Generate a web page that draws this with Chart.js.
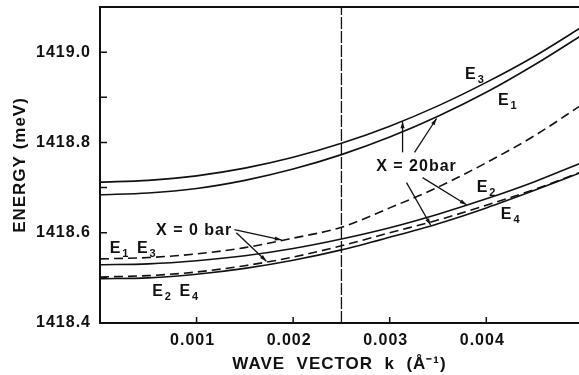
<!DOCTYPE html>
<html>
<head>
<meta charset="utf-8">
<script src="https://cdn.jsdelivr.net/npm/chart.js@4.4.1/dist/chart.umd.min.js"></script>
<style>
  body { margin: 0; background: #fff; }
</style>
</head>
<body>
<canvas id="graph" width="579" height="375"></canvas>
<script>
// wave vector k (1/Angstrom) and energies (meV)
const waveVector = [0, 0.0005, 0.001, 0.0015, 0.002, 0.0025, 0.003, 0.0035, 0.004, 0.0045, 0.005];
const e3At20bar  = [1418.712, 1418.716, 1418.726, 1418.743, 1418.767, 1418.798, 1418.836, 1418.881, 1418.933, 1418.991, 1419.057];
const e1At20bar  = [1418.684, 1418.688, 1418.698, 1418.716, 1418.741, 1418.773, 1418.812, 1418.858, 1418.911, 1418.972, 1419.039];
const e13At0bar  = [1418.542, 1418.545, 1418.553, 1418.567, 1418.588, 1418.612, 1418.655, 1418.701, 1418.755, 1418.815, 1418.885];
const e2At20bar  = [1418.529, 1418.531, 1418.538, 1418.549, 1418.565, 1418.586, 1418.611, 1418.641, 1418.675, 1418.713, 1418.756];
const e24At0bar  = [1418.502, 1418.505, 1418.513, 1418.527, 1418.546, 1418.571, 1418.600, 1418.628, 1418.661, 1418.696, 1418.736];
const e4At20bar  = [1418.498, 1418.500, 1418.508, 1418.521, 1418.539, 1418.562, 1418.590, 1418.620, 1418.655, 1418.694, 1418.735];
const markerK = 0.0025;

// labels: [k, E, parts]  parts = [base, subscript]
const labels = [
  [0.00378, 1418.94, [['E', '3']]],
  [0.00412, 1418.884, [['E', '1']]],
  [0.0039, 1418.691, [['E', '2']]],
  [0.00415, 1418.631, [['E', '4']]],
  [0.0001, 1418.556, [['E', '1'], [' E', '3']]],
  [0.00054, 1418.46, [['E', '2'], [' E', '4']]],
  [0.00286, 1418.736, [['X = 20bar', '']]],
  [0.00058, 1418.596, [['X = 0 bar', '']]]
];
// arrows: [kFrom, eFrom, kTo, eTo]
const arrows = [
  [0.003133, 1418.778, 0.003133, 1418.846],
  [0.003257, 1418.778, 0.003485, 1418.853],
  [0.003174, 1418.711, 0.003423, 1418.617],
  [0.00334, 1418.722, 0.003795, 1418.662],
  [0.001392, 1418.607, 0.001879, 1418.584],
  [0.001412, 1418.600, 0.001723, 1418.537]
];

const ink = '#111';
const font = 'Liberation Sans, Arial, sans-serif';

function curve(vals, dashed) {
  return {
    data: waveVector.map((k, i) => ({ x: k, y: vals[i] })),
    borderColor: ink,
    borderWidth: 1.6,
    borderDash: dashed ? [9, 5] : [],
    pointRadius: 0,
    tension: 0.4,
    cubicInterpolationMode: 'monotone'
  };
}

const decor = {
  id: 'decor',
  beforeDraw(chart) {
    chart.ctx.letterSpacing = '1px';
  },
  afterDatasetsDraw(chart) {
    const ctx = chart.ctx, sx = chart.scales.x, sy = chart.scales.y, a = chart.chartArea;
    ctx.save();
    ctx.strokeStyle = ink;
    ctx.fillStyle = ink;
    ctx.lineWidth = 2;
    ctx.beginPath();
    ctx.moveTo(a.left, a.top);
    ctx.lineTo(a.right, a.top);
    ctx.stroke();

    // inward tick marks
    ctx.lineWidth = 1.5;
    ctx.beginPath();
    sy.ticks.forEach(t => {
      const py = sy.getPixelForValue(t.value);
      if (py < a.top + 2) return;
      ctx.moveTo(a.left, py);
      ctx.lineTo(a.left + 7, py);
    });
    sx.ticks.forEach(t => {
      const v = t.value * 1000;
      if (Math.abs(v - Math.round(v)) > 1e-6 || Math.round(v) === 0) return;
      const px = sx.getPixelForValue(t.value);
      ctx.moveTo(px, a.bottom);
      ctx.lineTo(px, a.bottom - 6);
    });
    ctx.stroke();

    // arrows
    ctx.lineWidth = 1.3;
    arrows.forEach(([k1, e1, k2, e2]) => {
      const x1 = sx.getPixelForValue(k1), y1 = sy.getPixelForValue(e1);
      const x2 = sx.getPixelForValue(k2), y2 = sy.getPixelForValue(e2);
      ctx.beginPath();
      ctx.moveTo(x1, y1);
      ctx.lineTo(x2, y2);
      ctx.stroke();
      const ang = Math.atan2(y2 - y1, x2 - x1);
      ctx.beginPath();
      ctx.moveTo(x2, y2);
      ctx.lineTo(x2 - 7 * Math.cos(ang - 0.3), y2 - 7 * Math.sin(ang - 0.3));
      ctx.lineTo(x2 - 7 * Math.cos(ang + 0.3), y2 - 7 * Math.sin(ang + 0.3));
      ctx.closePath();
      ctx.fill();
    });

    // text labels
    ctx.textBaseline = 'alphabetic';
    ctx.textAlign = 'left';
    labels.forEach(([k, e, parts]) => {
      let px = sx.getPixelForValue(k);
      const py = sy.getPixelForValue(e);
      parts.forEach(([base, sub]) => {
        ctx.font = 'bold 16px ' + font;
        ctx.fillText(base, px, py);
        px += ctx.measureText(base).width;
        if (sub) {
          ctx.font = 'bold 11px ' + font;
          ctx.fillText(sub, px + 1, py + 4);
          px += ctx.measureText(sub).width + 3;
        }
      });
    });
    ctx.restore();
  }
};

new Chart(document.getElementById('graph'), {
  type: 'line',
  data: {
    datasets: [
      curve(e3At20bar, false),
      curve(e1At20bar, false),
      curve(e13At0bar, true),
      curve(e2At20bar, false),
      curve(e24At0bar, true),
      curve(e4At20bar, false),
      {
        data: [{ x: markerK, y: 1418.4 }, { x: markerK, y: 1419.1 }],
        borderColor: ink,
        borderWidth: 1.3,
        borderDash: [12, 2],
        pointRadius: 0
      }
    ]
  },
  options: {
    responsive: false,
    animation: false,
    layout: { padding: { top: 7, right: 0, left: 0, bottom: 0 } },
    plugins: { legend: { display: false }, tooltip: { enabled: false } },
    scales: {
      x: {
        type: 'linear',
        min: 0,
        max: 0.00496,
        afterFit: s => { s.height = 52; s.paddingLeft = 0; s.paddingRight = 0; },
        grid: { display: false },
        border: { display: true, color: ink, width: 2 },
        ticks: {
          stepSize: 0.001,
          includeBounds: false,
          autoSkip: false,
          maxRotation: 0,
          padding: 0,
          labelOffset: -4,
          color: ink,
          font: { family: font, size: 16, weight: 'bold' },
          callback: v => {
            const m = v * 1000;
            if (Math.abs(m - Math.round(m)) > 1e-6 || Math.round(m) === 0) return '';
            return v.toFixed(3);
          }
        },
        title: {
          display: true,
          text: 'WAVE  VECTOR  k  (Å⁻¹)',
          color: ink,
          font: { family: font, size: 17, weight: 'bold' },
          padding: { top: -4, bottom: 0 }
        }
      },
      y: {
        min: 1418.4,
        max: 1419.1,
        afterFit: s => { s.width = 100; s.paddingTop = 0; s.paddingBottom = 0; },
        grid: { display: false },
        border: { display: true, color: ink, width: 2 },
        ticks: {
          stepSize: 0.1,
          includeBounds: false,
          autoSkip: false,
          padding: 1,
          color: ink,
          font: { family: font, size: 16, weight: 'bold' },
          callback: v => {
            const t = Math.round(v * 10);
            return t % 2 === 0 ? (t / 10).toFixed(1) : '';
          }
        },
        title: {
          display: true,
          text: 'ENERGY (meV)',
          color: ink,
          font: { family: font, size: 17, weight: 'bold' },
          padding: { top: 10, bottom: 0 }
        }
      }
    }
  },
  plugins: [decor]
});
</script>
</body>
</html>
